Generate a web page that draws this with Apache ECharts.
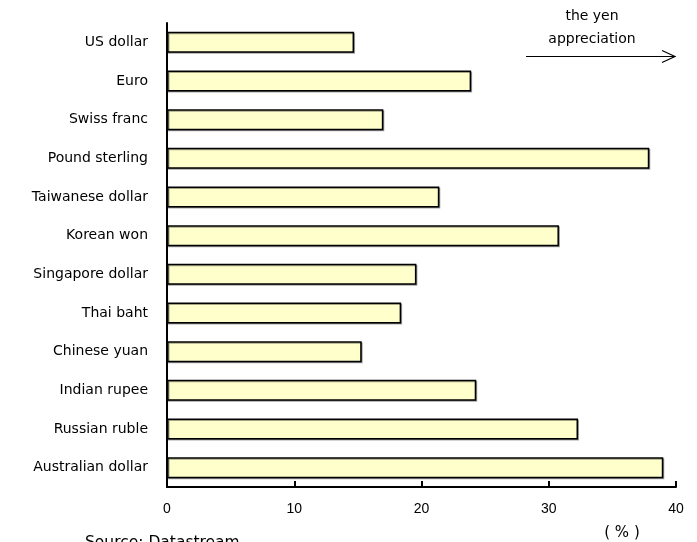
<!DOCTYPE html>
<html>
<head>
<meta charset="utf-8">
<script src="https://cdn.jsdelivr.net/npm/echarts@6/dist/echarts.min.js"></script>
<style>
html,body{margin:0;padding:0;background:#fff;}
#chart{width:697px;height:542px;}
</style>
</head>
<body>
<div id="chart"></div>
<script>
const categories = ["US dollar","Euro","Swiss franc","Pound sterling","Taiwanese dollar","Korean won","Singapore dollar","Thai baht","Chinese yuan","Indian rupee","Russian ruble","Australian dollar"];
const values = [14.7, 23.9, 17.0, 37.9, 21.4, 30.8, 19.6, 18.4, 15.3, 24.3, 32.3, 39.0];
const xTicks = [0, 10, 20, 30, 40];

const wide = "'DejaVu Sans', sans-serif";
const narrow = "'Liberation Sans', Arial, sans-serif";
const chart = echarts.init(document.getElementById('chart'));
chart.setOption({
  animation: false,
  backgroundColor: '#ffffff',
  grid: {left: 167, right: 21, top: 23, bottom: 55, containLabel: false},
  xAxis: {
    type: 'value', min: xTicks[0], max: xTicks[xTicks.length-1], interval: 10,
    axisLine: {show: true, lineStyle: {color: '#000', width: 2}},
    axisTick: {show: true, inside: true, length: 6, lineStyle: {color: '#000', width: 2}},
    splitLine: {show: false},
    axisLabel: {color: '#000', fontSize: 14, fontFamily: narrow, margin: 15}
  },
  yAxis: {
    type: 'category', data: categories, inverse: true,
    axisLine: {show: true, lineStyle: {color: '#000', width: 2}},
    axisTick: {show: false},
    axisLabel: {color: '#000', fontSize: 14, fontFamily: wide, margin: 19}
  },
  series: [{
    type: 'bar', data: values, barWidth: 21,
    itemStyle: {color: '#FFFFCC', borderColor: '#000', borderWidth: 1.5,
      shadowColor: 'rgba(0,0,0,0.35)', shadowOffsetX: 1, shadowOffsetY: 1, shadowBlur: 0}
  }],
  graphic: [
    {type: 'text', style: {x: 592, y: 16, text: 'the yen', fill: '#000', font: '14px ' + wide, align: 'center', verticalAlign: 'middle'}},
    {type: 'text', style: {x: 592, y: 39, text: 'appreciation', fill: '#000', font: '14px ' + wide, align: 'center', verticalAlign: 'middle'}},
    {type: 'line', shape: {x1: 526, y1: 56.5, x2: 675, y2: 56.5}, style: {stroke: '#000', lineWidth: 1.2}},
    {type: 'polyline', shape: {points: [[662, 50.5],[675, 56.5],[662, 62.5]]}, style: {stroke: '#000', lineWidth: 1.2, fill: null}},
    {type: 'text', style: {x: 622, y: 533, text: '( % )', fill: '#000', font: '15px ' + wide, align: 'center', verticalAlign: 'middle'}},
    {type: 'text', style: {x: 85, y: 535, text: 'Source: Datastream', fill: '#000', font: '15.5px ' + wide, align: 'left', verticalAlign: 'top'}}
  ]
});
</script>
</body>
</html>
